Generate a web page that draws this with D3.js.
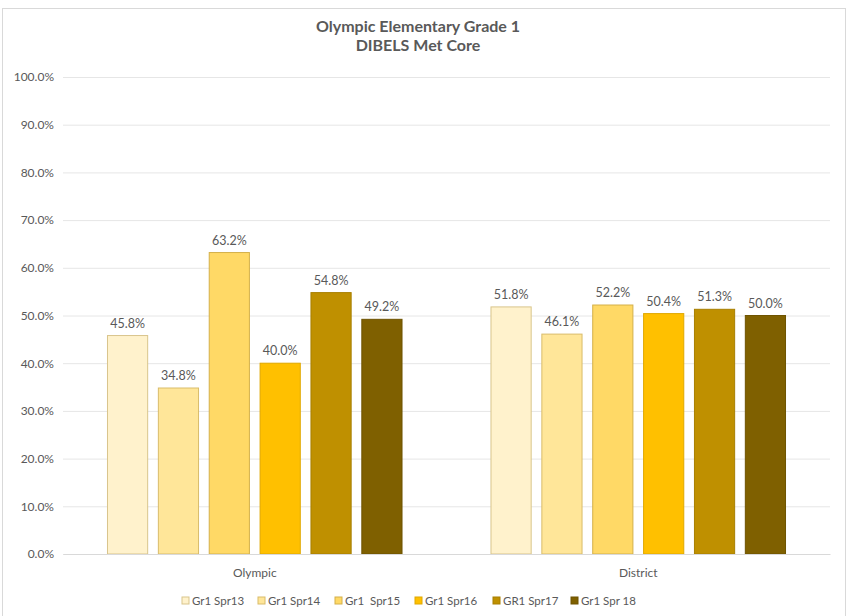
<!doctype html>
<html lang="en">
<head>
<meta charset="utf-8">
<title>Olympic Elementary Grade 1 - DIBELS Met Core</title>
<script src="https://d3js.org/d3.v7.min.js"></script>
<style>
  body { margin: 0; background: #fff; }
  svg text { font-family: Lato, "Open Sans", sans-serif; fill: #595959; }
  .title { font-size: 16px; font-weight: bold; }
  .tick text { font-size: 12px; }
  .lbl { font-size: 12.5px; }
  .leg { font-size: 11.5px; white-space: pre; }
</style>
</head>
<body>
<svg width="846" height="616"></svg>
<script>
// data
var groups = ["Olympic", "District"];
var seriesNames = ["Gr1 Spr13", "Gr1 Spr14", "Gr1  Spr15", "Gr1 Spr16", "GR1 Spr17", "Gr1 Spr 18"];
var olympic = [45.8, 34.8, 63.2, 40.0, 54.8, 49.2];
var district = [51.8, 46.1, 52.2, 50.4, 51.3, 50.0];
var colors = ["#FFF2CC", "#FFE699", "#FFD966", "#FFC000", "#BF9000", "#7F6000"];
var strokes = ["#D9C58C", "#D9BC6A", "#D4B04A", "#E0A800", "#A87F00", "#6E5300"];
var yTicks = [0, 10, 20, 30, 40, 50, 60, 70, 80, 90, 100];

var values = { Olympic: olympic, District: district };

var svg = d3.select("svg");
var margin = { left: 63, right: 16, top: 77, bottom: 62 };
var W = 846, H = 616;

// frame
svg.append("rect").attr("x", 2.5).attr("y", 8.5).attr("width", W - 3).attr("height", H)
  .attr("fill", "none").attr("stroke", "#d9d9d9");

var x0 = d3.scaleBand().domain(groups).range([margin.left, W - margin.right]);
var x1 = d3.scaleBand().domain(d3.range(seriesNames.length))
  .range([0, x0.bandwidth() * 0.768]).paddingInner(0.21);
var y = d3.scaleLinear().domain([0, 100]).range([H - margin.bottom, margin.top]);

// gridlines + y axis
var yAxis = d3.axisLeft(y).tickValues(yTicks)
  .tickFormat(function (d) { return d.toFixed(1) + "%"; })
  .tickSize(-(W - margin.right - margin.left)).tickPadding(9);
var ga = svg.append("g").attr("transform", "translate(" + margin.left + ",0)").call(yAxis);
ga.select(".domain").remove();
ga.selectAll(".tick line").attr("stroke", "#e6e6e6");

// bars
var off = (x0.bandwidth() - x1.range()[1]) / 2;
groups.forEach(function (g) {
  var gg = svg.append("g").attr("transform", "translate(" + (x0(g) + off) + ",0)");
  values[g].forEach(function (v, i) {
    gg.append("rect")
      .attr("x", x1(i)).attr("width", x1.bandwidth())
      .attr("y", y(v)).attr("height", y(0) - y(v))
      .attr("fill", colors[i]).attr("stroke", strokes[i]).attr("stroke-width", 1);
    gg.append("text").attr("class", "lbl")
      .attr("x", x1(i) + x1.bandwidth() / 2).attr("y", y(v) - 8)
      .attr("text-anchor", "middle").text(v.toFixed(1) + "%");
  });
});

// category axis
var xAxis = d3.axisBottom(x0).tickSize(0).tickPadding(14);
var gx = svg.append("g").attr("transform", "translate(0," + y(0) + ")").call(xAxis);
gx.select(".domain").attr("stroke", "#d9d9d9");
gx.selectAll("text").style("font-size", "12px");

// title
svg.append("text").attr("class", "title").attr("x", 418).attr("y", 32)
  .attr("text-anchor", "middle").text("Olympic Elementary Grade 1");
svg.append("text").attr("class", "title").attr("x", 418).attr("y", 51)
  .attr("text-anchor", "middle").text("DIBELS Met Core");

// legend
var legX = [182, 258, 335, 415, 493, 571];
var leg = svg.append("g");
seriesNames.forEach(function (s, i) {
  leg.append("rect").attr("x", legX[i]).attr("y", 597).attr("width", 7).attr("height", 7)
    .attr("fill", colors[i]).attr("stroke", strokes[i]);
  leg.append("text").attr("class", "leg").attr("x", legX[i] + 10).attr("y", 605)
    .attr("xml:space", "preserve").text(s);
});
</script>
</body>
</html>
